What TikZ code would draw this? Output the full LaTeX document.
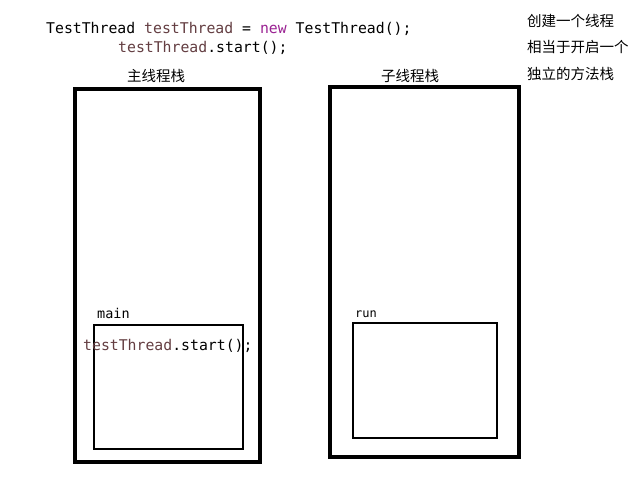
\documentclass[tikz,border=0pt]{standalone}
\usepackage{fontspec}
\newfontfamily\codefont{DejaVu Sans Mono}
\newfontfamily\cjk{Noto Sans CJK SC}
\definecolor{varcol}{RGB}{100,62,66}
\definecolor{kwcol}{RGB}{155,35,147}
\tikzset{
  stack/.style={draw=black, line width=4pt},
  frame/.style={draw=black, line width=2pt},
  code/.style={font=\codefont\fontsize{14.8}{18}\selectfont, inner sep=0pt, anchor=base west},
  lbl/.style={font=\codefont\fontsize{13.5}{16}\selectfont, inner sep=0pt, anchor=base west},
  cn/.style={font=\cjk\fontsize{14.5}{17}\selectfont, inner sep=0pt, anchor=base},
  cnl/.style={font=\cjk\fontsize{14.5}{17}\selectfont, inner sep=0pt, anchor=base west},
}
\begin{document}
\begin{tikzpicture}[x=1pt,y=-1pt]
\useasboundingbox[fill=white] (0,0) rectangle (640,480);
% stacks
\draw[stack] (75,89) rectangle (260,462);
\draw[stack] (330,87) rectangle (519,457);
\draw[frame] (94,325) rectangle (243,449);
\draw[frame] (353,323) rectangle (497,438);
% top code
\node[code] (l1) at (46,33) {TestThread \textcolor{varcol}{testThread} = \textcolor{kwcol}{new} TestThread();};
\node[code] (l2) at (118,52) {\textcolor{varcol}{testThread}.start();};
% right notes
\node[cnl] (n1) at (527,26) {创建一个线程};
\node[cnl] (n2) at (527,52) {相当于开启一个};
\node[cnl] (n3) at (527,79) {独立的方法栈};
% stack titles
\node[cn] (t1) at (156,81) {主线程栈};
\node[cn] (t2) at (410,81) {子线程栈};
% frame labels
\node[lbl] (m) at (97,318) {main};
\node[code] (c) at (83,350) {\textcolor{varcol}{testThread}.start();};
\node[lbl, font=\codefont\fontsize{12}{14}\selectfont] (r) at (355,317) {run};
\end{tikzpicture}
\end{document}
